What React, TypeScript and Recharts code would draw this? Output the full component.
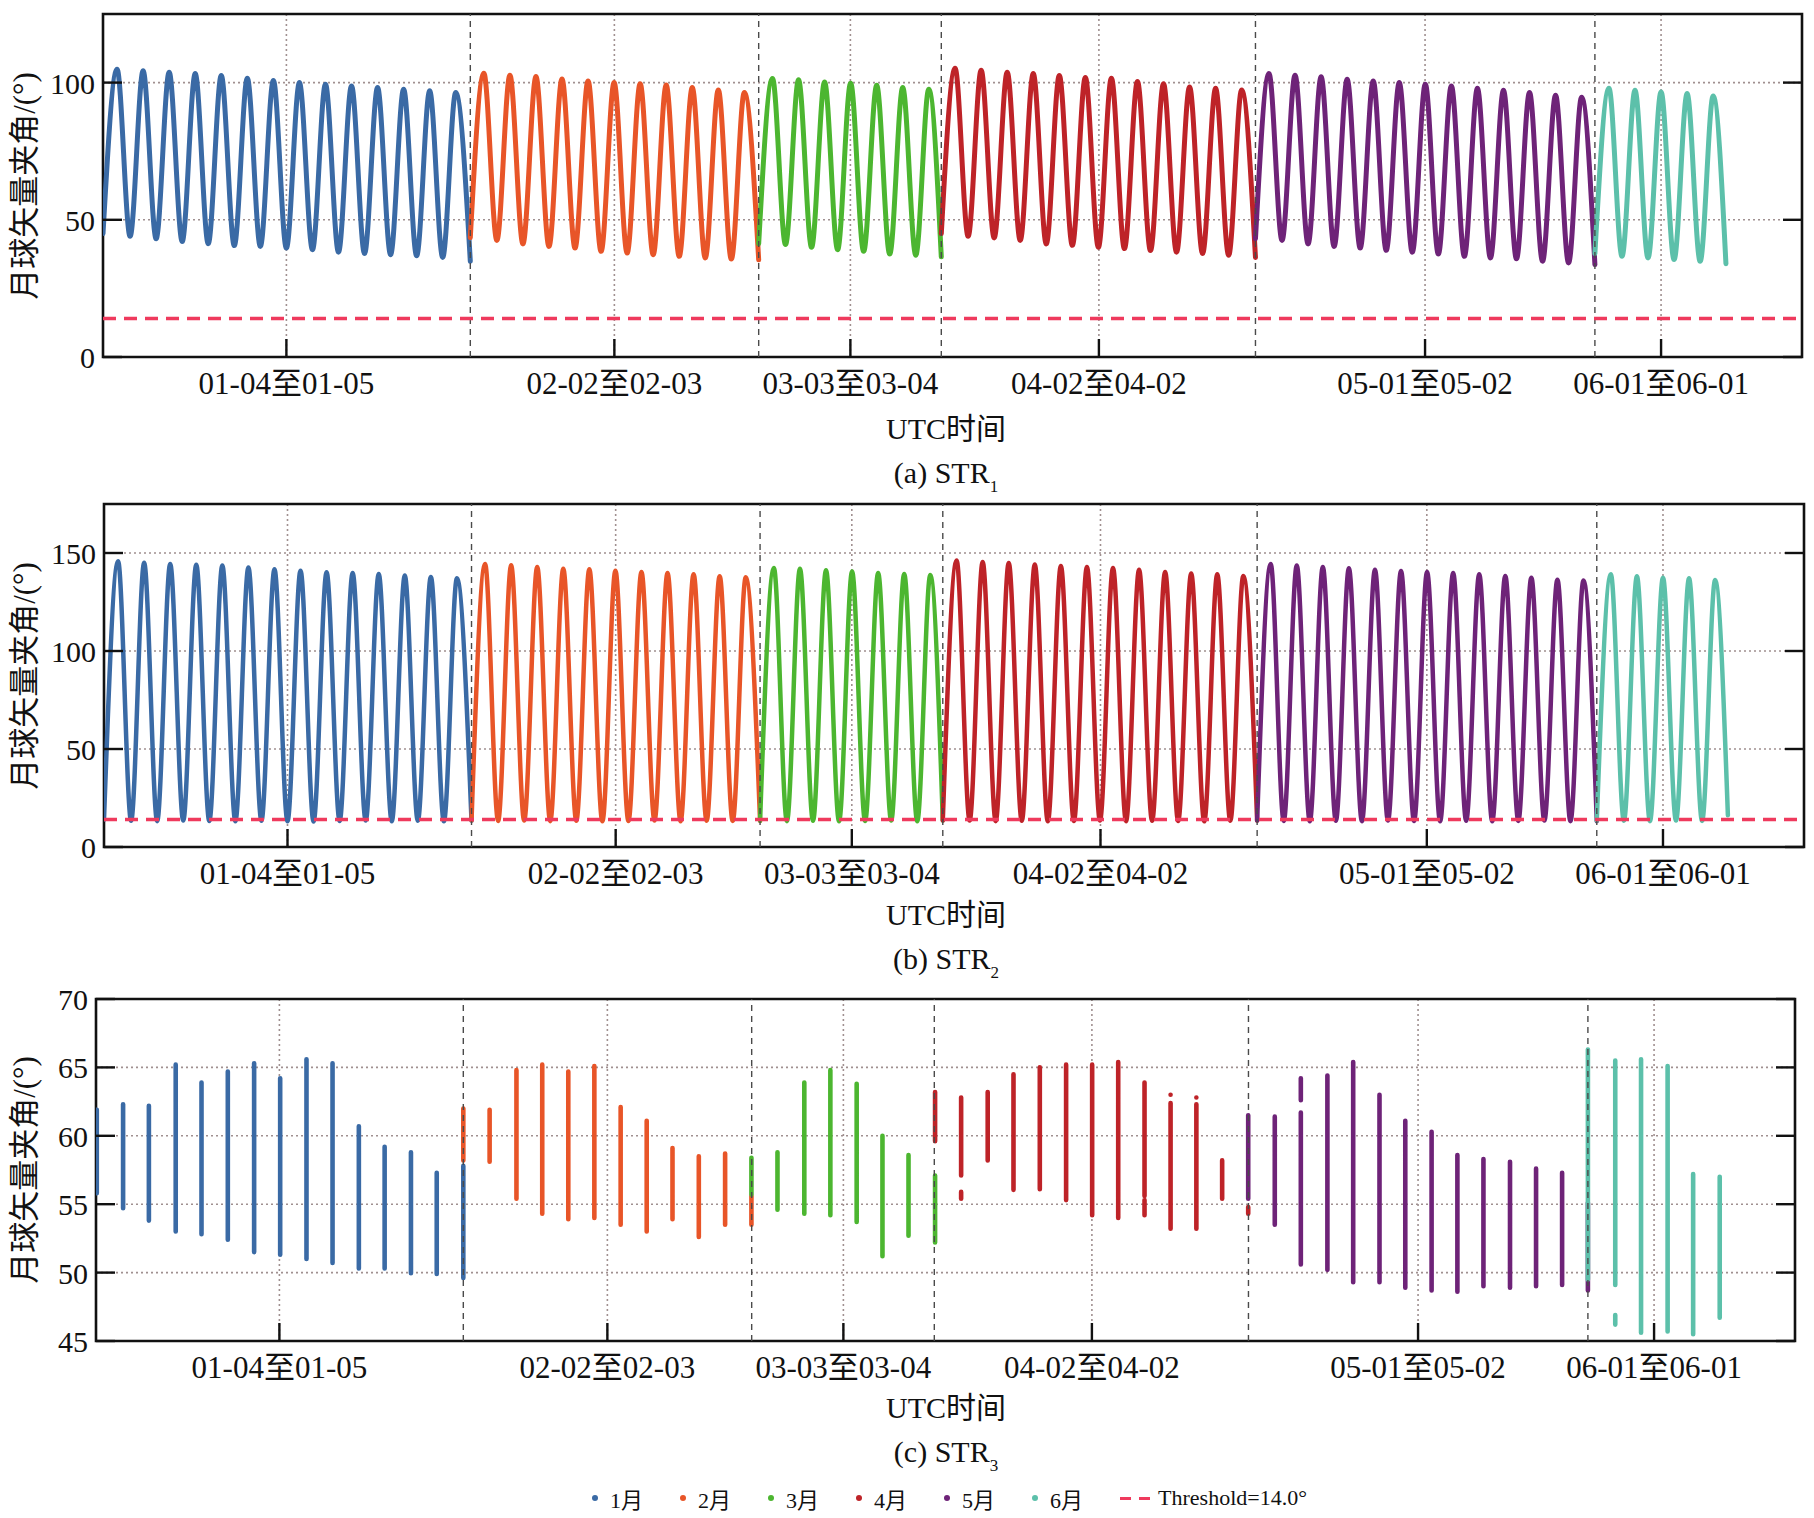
import {
  LineChart,
  Line,
  XAxis,
  YAxis,
  CartesianGrid,
  ReferenceLine,
  ReferenceArea,
} from "recharts";

const FONT = "'Liberation Serif', 'Noto Sans CJK SC', serif";
const W = 1814;

// months and colours
const MONTHS = ["1月", "2月", "3月", "4月", "5月", "6月"];
const MONTH_COLORS = ["#3a6aa5", "#e85528", "#4cb630", "#be2328", "#6e2378", "#5cc0aa"];

// time axis, counted in orbits from the start of the plot
const X_MAX = 65.22;
const X_TICKS = [7.04, 19.63, 28.69, 38.23, 50.75, 59.81];
const X_TICK_LABELS = [
  "01-04至01-05",
  "02-02至02-03",
  "03-03至03-04",
  "04-02至04-02",
  "05-01至05-02",
  "06-01至06-01",
];
const MONTH_BOUNDS = [14.1, 25.17, 32.18, 44.24, 57.27];
const SEG_START = [0, 14.1, 25.17, 32.18, 44.24, 57.27];
const SEG_END = [14.1, 25.17, 32.18, 44.24, 57.27, 62.3];
const FIRST_PEAK = [0.54, 14.62, 25.7, 32.71, 44.76, 57.81];
const THRESHOLD = 14;

// (a) STR1
const STR1_START = [45, 43.5, 41.3, 45, 43.1, 37.7];
const STR1_END = [34.9, 35.4, 36.5, 36.3, 33.7, 34];
const STR1_PEAKS = [
  [104.9, 104.3, 103.8, 103.3, 102.6, 101.6, 100.8, 100, 99.4, 98.8, 98.2, 97.6, 97, 96.4],
  [103.4, 102.7, 102.2, 101.3, 100.6, 100, 99.6, 99.1, 98.2, 97.3, 96.4],
  [101.5, 101, 100.2, 99.8, 99, 98.2, 97.6],
  [105.2, 104.5, 103.8, 103.3, 102.6, 101.9, 101.6, 100.4, 99.6, 98.4, 97.9, 97.3],
  [103.3, 102.7, 102.1, 101.2, 100.6, 100, 99.4, 98.8, 97.9, 97.2, 96.4, 95.4, 94.7],
  [97.9, 97.2, 96.6, 96, 95.1],
];
const STR1_TROUGHS = [
  [44, 43.1, 42.1, 41.3, 40.6, 40.3, 39.7, 39.1, 38.2, 37.7, 37.3, 36.9, 36.3],
  [42.5, 41.2, 40.3, 39.7, 38.5, 37.9, 37.3, 36.7, 36.1, 35.7],
  [41, 40, 39.1, 38.5, 37.5, 37.1],
  [44, 43.4, 42.5, 41.2, 40.7, 40, 39.5, 38.8, 38.2, 37.7, 37.1],
  [42.5, 41.2, 40.3, 39.7, 38.9, 38.2, 37.5, 36.7, 36.1, 35.8, 34.9, 34.3],
  [36.7, 36.1, 35.5, 34.9],
];

// (b) STR2
const STR2_START = [14, 13.6, 13.4, 13.5, 13.6, 13.4];
const STR2_END = [13.4, 13.3, 13.5, 13.4, 13.2, 16.2];
const STR2_PEAKS = [
  [145.8, 145, 144.4, 144, 143.6, 142.6, 141.7, 141, 140.2, 139.8, 139.3, 138.5, 137.8, 137.1],
  [144.4, 143.7, 142.9, 142, 141.7, 141, 140.3, 139.8, 139.2, 138.2, 137.6],
  [142.3, 142, 141.2, 140.6, 139.8, 139.3, 138.8],
  [146.2, 145.4, 144.9, 144.1, 143.4, 142.9, 142.4, 141.4, 140.3, 139.5, 139.1, 138.3],
  [144.4, 143.6, 142.9, 142.2, 141.5, 140.8, 140.3, 139.8, 139.1, 138.3, 137.4, 136.4, 136],
  [139.1, 138.1, 137.4, 137.1, 136.2],
];
const STR2_TROUGHS = [
  [13.4, 13.2, 13.5, 13.3, 13.1, 13.4, 13.2, 13, 13.3, 13.5, 13.2, 13.4, 13.1],
  [13.3, 13.5, 13.2, 13.4, 13.1, 13.3, 13.5, 13.2, 13.4, 13.3],
  [13.2, 13.4, 13.1, 13.3, 13.5, 13.2],
  [13.5, 13.2, 13.4, 13.1, 13.3, 13.5, 13.2, 13.4, 13.3, 13.1, 13.4],
  [13.3, 13.1, 13.4, 13.2, 13.5, 13.3, 13.1, 13.4, 13.2, 13.3, 13.5, 13.2],
  [13.4, 13.2, 13.5, 13.3],
];

// (c) STR3: visible arcs per orbit, [orbit, lowest, highest]
const STR3_BARS = [
  [[0.03, 55.8, 61.9], [1.04, 54.7, 62.3], [2.03, 53.8, 62.2], [3.06, 53.0, 65.2], [4.05, 52.8, 63.9],
   [5.06, 52.4, 64.7], [6.07, 51.5, 65.3], [7.07, 51.3, 64.2], [8.08, 51.0, 65.6], [9.08, 50.7, 65.3],
   [10.09, 50.3, 60.7], [11.08, 50.3, 59.2], [12.09, 49.95, 58.8], [13.08, 49.9, 57.3], [14.1, 49.6, 57.8]],
  [[14.1, 58.2, 62.0], [15.11, 58.1, 61.9], [16.14, 55.4, 64.8], [17.13, 54.3, 65.2], [18.13, 53.9, 64.7],
   [19.13, 54.0, 65.1], [20.14, 53.5, 62.1], [21.14, 53.0, 61.1], [22.13, 53.9, 59.1], [23.14, 52.6, 58.5],
   [24.15, 53.5, 58.7], [25.16, 53.5, 55.6]],
  [[25.16, 55.7, 58.4], [26.16, 54.6, 58.8], [27.19, 54.3, 63.9], [28.19, 54.2, 64.8], [29.2, 53.7, 63.8],
   [30.19, 51.2, 60.0], [31.19, 52.7, 58.6], [32.21, 52.2, 57.1]],
  [[32.21, 59.6, 63.2], [33.21, 57.1, 62.8], [33.21, 55.4, 55.9], [34.23, 58.2, 63.2], [35.22, 56.05, 64.5],
   [36.23, 56.1, 65.0], [37.24, 55.3, 65.2], [38.24, 54.2, 65.2], [39.24, 54.0, 65.4], [40.25, 55.6, 63.9],
   [40.25, 54.2, 55.3], [41.25, 53.2, 62.4], [41.25, 63.0, 63.0], [42.24, 53.2, 62.3], [42.24, 62.8, 62.8],
   [43.23, 55.4, 58.2], [44.23, 54.3, 54.8]],
  [[44.23, 55.4, 61.5], [45.25, 53.5, 61.4], [46.25, 62.6, 64.2], [46.25, 50.6, 61.7], [47.27, 50.2, 64.4],
   [48.26, 49.3, 65.4], [49.27, 49.3, 63.0], [50.26, 48.9, 61.1], [51.27, 48.7, 60.3], [52.26, 48.6, 58.6],
   [53.26, 49.0, 58.3], [54.28, 48.9, 58.1], [55.28, 49.0, 57.6], [56.28, 49.1, 57.3], [57.27, 48.7, 55.1]],
  [[57.27, 49.5, 66.3], [58.32, 49.1, 65.5], [58.32, 46.2, 46.9], [59.31, 45.6, 65.6], [60.33, 45.7, 65.1],
   [61.31, 45.5, 57.2], [62.33, 46.7, 57.0]],
];

type Pt = { x: number; y: number | null };

function buildWave(m: number, start: number, peaks: number[], troughs: number[], end: number): Pt[] {
  const pts: Pt[] = [{ x: SEG_START[m], y: start }];
  peaks.forEach((p, i) => {
    pts.push({ x: FIRST_PEAK[m] + i, y: p });
    if (i < troughs.length) pts.push({ x: FIRST_PEAK[m] + i + 0.5, y: troughs[i] });
  });
  pts.push({ x: SEG_END[m], y: end });
  return pts;
}

function buildBars(bars: number[][]): Pt[] {
  const pts: Pt[] = [];
  bars.forEach(([x, lo, hi]) => {
    pts.push({ x, y: lo }, { x, y: hi }, { x, y: null });
  });
  return pts;
}

const str1 = MONTHS.map((_, m) => buildWave(m, STR1_START[m], STR1_PEAKS[m], STR1_TROUGHS[m], STR1_END[m]));
const str2 = MONTHS.map((_, m) => buildWave(m, STR2_START[m], STR2_PEAKS[m], STR2_TROUGHS[m], STR2_END[m]));
const str3 = STR3_BARS.map(buildBars);

const BottomTick = (props: any) => {
  const { x, y, index } = props;
  return (
    <g>
      <line x1={x} x2={x} y1={y} y2={y - 18} stroke="#111" strokeWidth={2.4} />
      <text x={x} y={y + 37} textAnchor="middle" fontSize={31} fontFamily={FONT} fill="#111">
        {X_TICK_LABELS[index]}
      </text>
    </g>
  );
};

const TopTick = (props: any) => {
  const { x, y } = props;
  return <line x1={x} x2={x} y1={y} y2={y + 18} stroke="#111" strokeWidth={2.4} />;
};

const LeftTick = (props: any) => {
  const { x, y, payload } = props;
  return (
    <g>
      <line x1={x} x2={x + 19} y1={y} y2={y} stroke="#111" strokeWidth={2.4} />
      <text x={x - 8} y={y + 11} textAnchor="end" fontSize={30} fontFamily={FONT} fill="#111">
        {payload.value}
      </text>
    </g>
  );
};

const RightTick = (props: any) => {
  const { x, y } = props;
  return <line x1={x} x2={x - 19} y1={y} y2={y} stroke="#111" strokeWidth={2.4} />;
};

type PanelProps = {
  plotTop: number;
  plotBottom: number;
  plotLeft: number;
  plotRight: number;
  yDomain: [number, number];
  yTicks: number[];
  series: Pt[][];
  curve: "monotone" | "linear";
  strokeWidth: number;
  threshold: boolean;
  topTicks: boolean;
};

const TOP_PAD = 30;

function Panel(p: PanelProps) {
  const top = p.plotTop - TOP_PAD;
  const height = p.plotBottom - top + 64;
  return (
    <div style={{ position: "absolute", left: 0, top }}>
      <LineChart width={W} height={height} margin={{ top: TOP_PAD, right: 0, bottom: 4, left: 0 }}>
        <CartesianGrid stroke="#a09090" strokeDasharray="2 3" strokeWidth={1.6} />
        <XAxis
          type="number"
          dataKey="x"
          domain={[0, X_MAX]}
          allowDataOverflow
          ticks={X_TICKS}
          interval={0}
          height={60}
          tickSize={0}
          tickMargin={0}
          axisLine={false}
          tickLine={false}
          tick={<BottomTick />}
        />
        {p.topTicks && (
          <XAxis
            xAxisId="top"
            orientation="top"
            type="number"
            domain={[0, X_MAX]}
            allowDataOverflow
            ticks={X_TICKS.slice(0, 3)}
            interval={0}
            height={0}
            tickSize={0}
            tickMargin={0}
            axisLine={false}
            tickLine={false}
            tick={<TopTick />}
          />
        )}
        <YAxis
          type="number"
          domain={p.yDomain}
          allowDataOverflow
          ticks={p.yTicks}
          interval={0}
          width={p.plotLeft}
          tickSize={0}
          tickMargin={0}
          axisLine={false}
          tickLine={false}
          tick={<LeftTick />}
        />
        <YAxis
          yAxisId="r"
          orientation="right"
          type="number"
          domain={p.yDomain}
          allowDataOverflow
          ticks={p.yTicks}
          interval={0}
          width={W - p.plotRight}
          tickSize={0}
          tickMargin={0}
          axisLine={false}
          tickLine={false}
          tick={<RightTick />}
        />
        {p.series.map((data, m) => (
          <Line
            key={MONTHS[m]}
            data={data}
            dataKey="y"
            name={MONTHS[m]}
            type={p.curve}
            stroke={MONTH_COLORS[m]}
            strokeWidth={p.strokeWidth}
            strokeLinecap="round"
            strokeLinejoin="round"
            dot={false}
            activeDot={false}
            connectNulls={false}
            isAnimationActive={false}
          />
        ))}
        {MONTH_BOUNDS.map((b) => (
          <ReferenceLine key={b} x={b} stroke="#4a4a4a" strokeDasharray="6 5" strokeWidth={1.4} />
        ))}
        {p.threshold && (
          <ReferenceLine y={THRESHOLD} stroke="#ef3a5d" strokeDasharray="13 8" strokeWidth={3.5} />
        )}
        <ReferenceArea
          x1={0}
          x2={X_MAX}
          y1={p.yDomain[0]}
          y2={p.yDomain[1]}
          fill="none"
          fillOpacity={0}
          stroke="#111"
          strokeWidth={2.6}
        />
      </LineChart>
    </div>
  );
}

const textStyle = {
  position: "absolute" as const,
  fontFamily: FONT,
  fontSize: 30,
  color: "#111",
  textAlign: "center" as const,
  lineHeight: "34px",
  whiteSpace: "nowrap" as const,
};

function Caption({ cy, tag, sub }: { cy: number; tag: string; sub: string }) {
  return (
    <>
      <div style={{ ...textStyle, left: 946 - 300, width: 600, top: cy - 17 - 44 }}>UTC时间</div>
      <div style={{ ...textStyle, left: 946 - 300, width: 600, top: cy - 17 }}>
        {tag}&nbsp;STR
        <span style={{ fontSize: 17, position: "relative", top: 9 }}>{sub}</span>
      </div>
    </>
  );
}

function YTitle({ cy }: { cy: number }) {
  return (
    <div
      style={{
        ...textStyle,
        fontSize: 31,
        left: 25 - 200,
        top: cy - 20,
        width: 400,
        height: 40,
        lineHeight: "40px",
        transform: "rotate(-90deg)",
      }}
    >
      月球矢量夹角/(°)
    </div>
  );
}

export default function App() {
  return (
    <div
      style={{
        position: "absolute",
        left: 0,
        top: 0,
        width: W,
        height: 1518,
        background: "#fff",
        fontFamily: FONT,
      }}
    >
      <Panel
        plotTop={14}
        plotBottom={357}
        plotLeft={103}
        plotRight={1802}
        yDomain={[0, 125]}
        yTicks={[0, 50, 100]}
        series={str1}
        curve="monotone"
        strokeWidth={5}
        threshold
        topTicks={false}
      />
      <YTitle cy={186} />
      <Caption cy={473} tag="(a)" sub="1" />

      <Panel
        plotTop={504}
        plotBottom={847}
        plotLeft={104}
        plotRight={1804}
        yDomain={[0, 175]}
        yTicks={[0, 50, 100, 150]}
        series={str2}
        curve="monotone"
        strokeWidth={4.5}
        threshold
        topTicks
      />
      <YTitle cy={676} />
      <Caption cy={959} tag="(b)" sub="2" />

      <Panel
        plotTop={999}
        plotBottom={1341}
        plotLeft={96}
        plotRight={1795}
        yDomain={[45, 70]}
        yTicks={[45, 50, 55, 60, 65, 70]}
        series={str3}
        curve="linear"
        strokeWidth={4.6}
        threshold={false}
        topTicks
      />
      <YTitle cy={1170} />
      <Caption cy={1452} tag="(c)" sub="3" />

      <div
        style={{
          position: "absolute",
          left: 592,
          top: 1484,
          height: 28,
          display: "flex",
          alignItems: "center",
          fontFamily: FONT,
          fontSize: 22,
          color: "#111",
          whiteSpace: "nowrap",
        }}
      >
        {MONTHS.map((m, i) => (
          <div key={m} style={{ display: "flex", alignItems: "center", marginRight: 37 }}>
            <span
              style={{
                width: 6,
                height: 6,
                borderRadius: 3,
                background: MONTH_COLORS[i],
                marginRight: 12,
                display: "inline-block",
              }}
            />
            <span>{m}</span>
          </div>
        ))}
        <div style={{ display: "flex", alignItems: "center" }}>
          <span style={{ width: 11, height: 3, background: "#ef3a5d", marginRight: 8, display: "inline-block" }} />
          <span style={{ width: 11, height: 3, background: "#ef3a5d", marginRight: 8, display: "inline-block" }} />
          <span>Threshold=14.0°</span>
        </div>
      </div>
    </div>
  );
}
